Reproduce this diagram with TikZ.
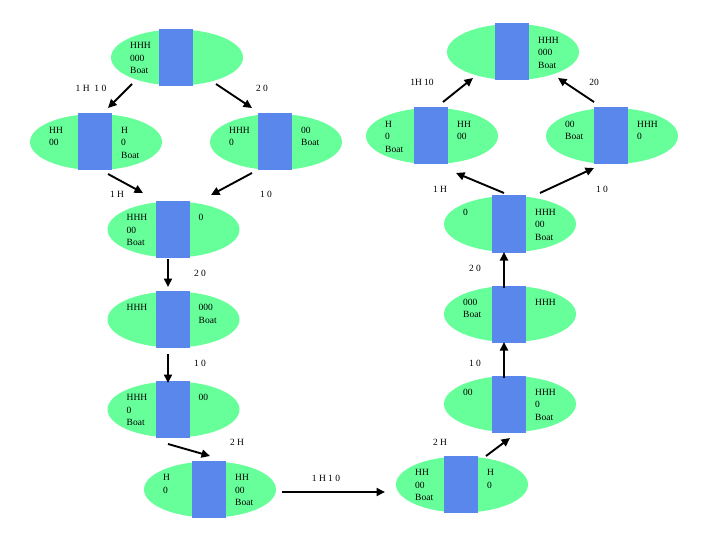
\documentclass[tikz,border=0pt]{standalone}
\usepackage{fontspec}
\setmainfont{Liberation Serif}
\usetikzlibrary{shapes.geometric,arrows.meta,calc}
\definecolor{stategreen}{RGB}{102,255,153}
\definecolor{riverblue}{RGB}{90,135,235}
\newcommand\mystate[4]{%
  \node[ell] (#1) at (#2) {};
  \node[bar] (#1b) at ($(#1)+(-1,0)$) {};
  \node[txt] (#1l) at ($(#1)+(-47,-15.2)$) {#3};
  \node[txt] (#1r) at ($(#1)+(25,-15.2)$) {#4};
}
\begin{document}
\begin{tikzpicture}[x=1pt,y=-1pt,
  ell/.style={ellipse,fill=stategreen,draw=none,minimum width=132pt,minimum height=56pt,inner sep=0pt},
  bar/.style={rectangle,fill=riverblue,draw=none,minimum width=34pt,minimum height=57pt,inner sep=0pt},
  txt/.style={anchor=north west,inner sep=0pt,align=left,font=\fontsize{9.5}{12.5}\selectfont},
  lbl/.style={inner sep=0pt,font=\fontsize{9.5}{12.5}\selectfont},
  arr/.style={-{Triangle[length=8.5pt,width=8pt]},line width=1.9pt,black}]
\useasboundingbox (0,0) rectangle (720,540);
\fill[white] (0,0) rectangle (720,540);
% states
\mystate{A}{177,57.5}{HHH\\000\\Boat}{}
\mystate{B}{96,142}{HH\\00}{H\\0\\Boat}
\mystate{C}{276,142}{HHH\\0}{00\\Boat}
\mystate{D}{173.5,229.5}{HHH\\00\\Boat}{0}
\mystate{E}{173.5,319.5}{HHH}{000\\Boat}
\mystate{F}{173.5,409.5}{HHH\\0\\Boat}{00}
\mystate{G}{210,489.5}{H\\0}{HH\\00\\Boat}
\mystate{H}{462,484.5}{HH\\00\\Boat}{H\\0}
\mystate{I}{510,404}{00}{HHH\\0\\Boat}
\mystate{J}{510,314}{000\\Boat}{HHH}
\mystate{K}{510,224}{0}{HHH\\00\\Boat}
\mystate{L}{432,136}{H\\0\\Boat}{HH\\00}
\mystate{M}{612,136}{00\\Boat}{HHH\\0}
\mystate{N}{513,52}{}{HHH\\000\\Boat}
% connectors
\draw[arr] ($(A)+(-45,26.5)$) -- ($(B)+(12,-34)$);
\draw[arr] ($(A)+(39,26.5)$) -- ($(C)+(-24,-34)$);
\draw[arr] ($(B)+(12,32)$) -- ($(D)+(-30.5,-36.5)$);
\draw[arr] ($(C)+(-24,31)$) -- ($(D)+(37.5,-34.5)$);
\draw[arr] ($(D)+(-5.5,29.5)$) -- ($(E)+(-5.5,-32.5)$);
\draw[arr] ($(E)+(-5.5,34.5)$) -- ($(F)+(-5.5,-26.5)$);
\draw[arr] ($(F)+(-5.5,34.5)$) -- ($(G)+(0,-33.5)$);
\draw[arr] ($(G)+(72,2.5)$) -- ($(H)+(-77,7.5)$);
\draw[arr] ($(H)+(24,-28.5)$) -- ($(I)+(0,34)$);
\draw[arr] ($(I)+(-6,-26)$) -- ($(J)+(-6,28)$);
\draw[arr] ($(J)+(-6,-26)$) -- ($(K)+(-6,28)$);
\draw[arr] ($(K)+(-6,-31)$) -- ($(L)+(24,37)$);
\draw[arr] ($(K)+(30,-31)$) -- ($(M)+(-18,32)$);
\draw[arr] ($(L)+(11,-34)$) -- ($(N)+(-40,26)$);
\draw[arr] ($(M)+(-18,-34)$) -- ($(N)+(45,26)$);
% labels
\node[lbl] (t1) at (91,88) {1 H\ \ 1 0};
\node[lbl] (t2) at (262,88) {2 0};
\node[lbl] (t3) at (117,194) {1 H};
\node[lbl] (t4) at (266,194) {1 0};
\node[lbl] (t5) at (200,273) {2 0};
\node[lbl] (t6) at (200,363) {1 0};
\node[lbl] (t7) at (237,442) {2 H};
\node[lbl] (t8) at (326,478) {1 H 1 0};
\node[lbl] (t9) at (440,442) {2 H};
\node[lbl] (t10) at (475,363) {1 0};
\node[lbl] (t11) at (475,268) {2 0};
\node[lbl] (t12) at (440,189) {1 H};
\node[lbl] (t13) at (602,189) {1 0};
\node[lbl] (t14) at (422,82) {1H 10};
\node[lbl] (t15) at (594,82) {20};
\end{tikzpicture}
\end{document}
